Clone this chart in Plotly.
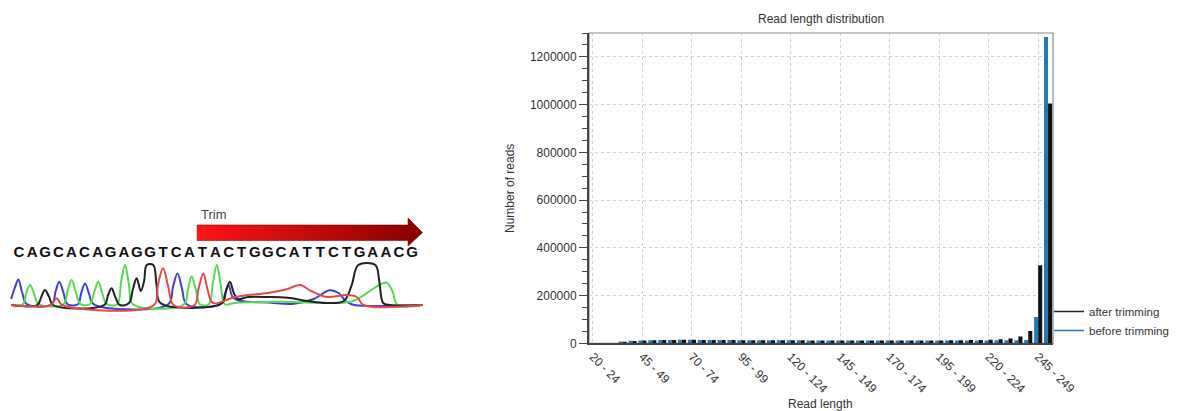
import plotly.graph_objects as go

# ---------------- data: read length distribution ----------------
bin_labels = [f"{s} - {s+4}" for s in range(20, 255, 5)]  # 20-24 ... 250-254
before_trimming = [0, 0, 0, 8000, 11000, 12000, 13000, 13500, 14000, 14500,
                   14500, 14000, 14000, 13500, 13500, 13000, 13000, 13000, 12500, 12500,
                   12500, 12500, 12000, 12000, 12000, 12000, 12000, 12000, 12000, 12000,
                   12000, 12000, 12000, 12000, 12000, 12000, 12000, 12000, 12000, 12000,
                   12000, 12500, 12500, 13000, 13500, 110000, 1283000]
after_trimming = [0, 0, 0, 7000, 10000, 12000, 13000, 13500, 14000, 14500,
                  14500, 14000, 14000, 13500, 13500, 13000, 13000, 13000, 12500, 12500,
                  12500, 12500, 12000, 12000, 12000, 12000, 12000, 12000, 12000, 12000,
                  12000, 12000, 12000, 12000, 12000, 12000, 12500, 13000, 13500, 14000,
                  15000, 17000, 20000, 29000, 52000, 327000, 1005000]
tick_labels = [bin_labels[i] for i in range(0, 46, 5)]

# ---------------- data: chromatogram illustration ----------------
sequence = "CAGCACAGAGGTCATACTGGCATTCTGAACG"
seq_pos = list(range(len(sequence)))
seq_level = [1.3] * len(sequence)

blue_x = [-0.6, -0.3, -0.05, 0.25, 0.6, 2.5, 2.8, 3.08, 3.4, 3.7, 4.5, 4.75, 5.04, 5.35, 5.7,
          11.4, 11.75, 12.1, 12.45, 12.8, 15.4, 15.7, 16.0, 16.3, 16.7, 17.5, 19.0, 21.0,
          22.5, 23.7, 24.4, 25.0, 25.6, 30.8]
blue_y = [0.15, 0.45, 0.64, 0.3, 0.02, 0.02, 0.35, 0.58, 0.3, 0.02, 0.02, 0.3, 0.54, 0.28, 0.02,
          0.02, 0.45, 0.79, 0.4, 0.02, 0.02, 0.25, 0.5, 0.2, 0.12, 0.08, 0.06, 0.03,
          0.15, 0.37, 0.3, 0.08, 0.0, 0.0]
green_x = [-0.6, 0.3, 0.55, 0.84, 1.15, 1.5, 3.4, 3.7, 4.02, 4.35, 4.7, 5.4, 5.75, 6.05, 6.35,
           6.7, 7.5, 7.8, 8.09, 8.4, 8.7, 12.6, 12.9, 13.18, 13.5, 13.8, 14.5, 14.8, 15.1,
           15.4, 15.7, 16.5, 20.0, 24.0, 25.5, 26.8, 27.5, 28.07, 28.5, 28.9, 30.8]
green_y = [0.0, 0.02, 0.3, 0.5, 0.28, 0.02, 0.02, 0.35, 0.625, 0.3, 0.02, 0.02, 0.33, 0.58, 0.3,
           0.02, 0.02, 0.6, 1.0, 0.5, 0.02, 0.02, 0.4, 0.71, 0.38, 0.02, 0.02, 0.55, 1.0,
           0.5, 0.02, 0.05, 0.08, 0.05, 0.1, 0.35, 0.5, 0.56, 0.35, 0.0, 0.0]
black_x = [-0.6, 1.4, 1.7, 1.98, 2.3, 2.6, 6.5, 6.8, 7.07, 7.35, 7.7, 8.4, 8.7, 8.98, 9.3, 9.55,
           9.75, 10.25, 10.5, 10.8, 15.5, 15.8, 16.1, 16.4, 16.7, 17.5, 19.0, 20.5, 22.0, 23.5,
           24.8, 25.4, 25.9, 27.2, 27.5, 27.8, 28.3, 30.8]
black_y = [0.0, 0.0, 0.2, 0.375, 0.2, 0.0, 0.0, 0.25, 0.42, 0.2, 0.0, 0.05, 0.4, 0.67, 0.35, 0.6,
           1.0, 1.0, 0.5, 0.05, 0.05, 0.35, 0.58, 0.3, 0.15, 0.2, 0.2, 0.18, 0.1, 0.05,
           0.1, 0.5, 1.0, 1.0, 0.6, 0.05, 0.0, 0.0]
red_x = [-0.6, 2.4, 2.88, 3.3, 10.3, 10.6, 11.0, 11.4, 11.8, 13.4, 13.7, 14.07, 14.4, 14.8, 16.5,
         17.5, 19.0, 20.5, 21.45, 22.3, 23.5, 25.0, 25.8, 26.3, 30.8]
red_y = [0.0, 0.0, 0.17, 0.0, 0.0, 0.5, 0.92, 0.45, 0.0, 0.0, 0.4, 0.79, 0.38, 0.05, 0.2,
         0.25, 0.3, 0.4, 0.5, 0.35, 0.2, 0.25, 0.2, 0.0, 0.0]
arrow_x = [13.6, 29.7, 29.7, 30.8, 29.7, 29.7, 13.6, 13.6]
arrow_y = [2.0, 2.0, 2.175, 1.81, 1.475, 1.61, 1.61, 2.0]

FONT = "Liberation Sans, Arial, sans-serif"
W, H = 1179, 411
OFF = 8  # page body margin offset


def px(p):  # page x pixel -> paper fraction
    return (p - OFF) / W


def py(p):  # page y pixel -> paper fraction
    return 1 - (p - OFF) / H


fig = go.Figure()

# ---- chromatogram panel (x2 / y2) ----
for xs, ys, col in [(blue_x, blue_y, "#4040d0"), (green_x, green_y, "#50dc50"),
                    (black_x, black_y, "#222222"), (red_x, red_y, "#e04a4a")]:
    fig.add_trace(go.Scatter(x=xs, y=ys, mode="lines",
                             line=dict(color=col, width=2, shape="spline", smoothing=1.0),
                             xaxis="x2", yaxis="y2", showlegend=False, hoverinfo="skip"))
fig.add_trace(go.Scatter(x=arrow_x, y=arrow_y, mode="lines", fill="toself",
                         fillgradient=dict(type="horizontal", colorscale=[[0, "#ff1414"], [1, "#860000"]]),
                         line=dict(color="#7a0000", width=0.6),
                         xaxis="x2", yaxis="y2", showlegend=False, hoverinfo="skip"))
fig.add_trace(go.Scatter(x=seq_pos, y=seq_level, mode="text", text=list(sequence),
                         textfont=dict(family=FONT, size=15, color="#111111", weight="bold"),
                         xaxis="x2", yaxis="y2", showlegend=False, hoverinfo="skip"))

# ---- bar chart ----
fig.add_trace(go.Bar(x=bin_labels, y=before_trimming, name="before trimming", marker_color="#2478b8",
                     marker_line_width=0, showlegend=False))
fig.add_trace(go.Bar(x=bin_labels, y=after_trimming, name="after trimming", marker_color="#111111",
                     marker_line_width=0, showlegend=False))
fig.add_trace(go.Scatter(x=[None], y=[None], mode="lines", name="after trimming",
                         line=dict(color="#222222", width=1.5)))
fig.add_trace(go.Scatter(x=[None], y=[None], mode="lines", name="before trimming",
                         line=dict(color="#2478b8", width=1.5)))

x0p, x1p, y0p, y1p = 589, 1053, 343.3, 33
# left panel: base index b at page x = 19 + 13.1*b ; intensity v at page y = 305 - 40*v
fig.update_layout(
    width=W, height=H, margin=dict(l=0, r=0, t=0, b=0, autoexpand=False),
    paper_bgcolor="white", plot_bgcolor="white",
    font=dict(family=FONT, size=12, color="#333333"),
    barmode="group", bargap=0.18, bargroupgap=0,
    xaxis=dict(domain=[px(x0p), px(x1p)], type="category", categoryorder="array", categoryarray=bin_labels,
               range=[-0.4, 46.5], tickmode="array", tickvals=tick_labels, ticktext=tick_labels,
               tickangle=45, ticks="", showgrid=True, gridcolor="#cfcfcf", griddash="dot", gridwidth=1,
               showline=True, linecolor="#444444", linewidth=1.5, zeroline=False, automargin=False,
               tickfont=dict(size=12, color="#333333"), anchor="y", fixedrange=True),
    yaxis=dict(domain=[py(y0p), py(y1p)], range=[0, 1300000], tick0=0, dtick=200000,
               tickformat="d", ticks="outside", ticklen=8, tickwidth=1, tickcolor="#444444",
               minor=dict(dtick=50000, ticks="outside", ticklen=5, tickwidth=1, tickcolor="#444444", showgrid=False),
               showgrid=True, gridcolor="#cfcfcf", griddash="dot", gridwidth=1,
               showline=True, linecolor="#444444", linewidth=2, zeroline=False, automargin=False,
               tickfont=dict(size=12, color="#333333"), anchor="x", fixedrange=True),
    xaxis2=dict(domain=[0, 440 / W], range=[(OFF - 19) / 13.1, (OFF + 440 - 19) / 13.1], visible=False,
                anchor="y2", fixedrange=True, automargin=False),
    yaxis2=dict(domain=[0, 1], range=[(305 - (OFF + H)) / 40, (305 - OFF) / 40], visible=False, anchor="x2",
                fixedrange=True, automargin=False),
    legend=dict(x=px(1049), y=py(297), xanchor="left", yanchor="top", itemwidth=30,
                font=dict(size=11.5, color="#333333"), bgcolor="rgba(0,0,0,0)", tracegroupgap=0),
    shapes=[dict(type="rect", xref="x domain", yref="y domain", x0=0, x1=1, y0=0, y1=1,
                 line=dict(color="#8a8a8a", width=1.2), layer="below")],
    annotations=[
        dict(text="Read length distribution", xref="paper", yref="paper", x=px((x0p + x1p) / 2), y=py(19),
             xanchor="center", yanchor="middle", showarrow=False, font=dict(size=12, color="#333333")),
        dict(text="Number of reads", xref="paper", yref="paper", x=px(510), y=py(188), textangle=-90,
             xanchor="center", yanchor="middle", showarrow=False, font=dict(size=12, color="#333333")),
        dict(text="Read length", xref="paper", yref="paper", x=px(820), y=py(404),
             xanchor="center", yanchor="middle", showarrow=False, font=dict(size=12, color="#333333")),
        dict(text="Trim", xref="x2", yref="y2", x=13.75, y=(305 - 214) / 40, xanchor="left", yanchor="middle",
             showarrow=False, font=dict(size=13, color="#444444")),
    ],
)

fig.write_html("out.html")
